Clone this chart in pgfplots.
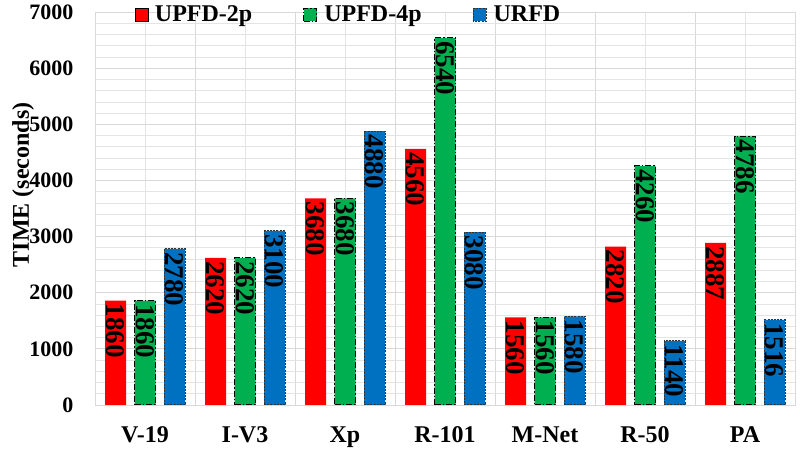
\documentclass[border=0pt]{standalone}
\usepackage{fontspec}
\setmainfont{Liberation Serif}
\usepackage{pgfplots}
\usetikzlibrary{calc}
\pgfplotsset{compat=1.18}
\definecolor{cred}{HTML}{FF0000}
\definecolor{cgreen}{HTML}{00B050}
\definecolor{cblue}{HTML}{0070C0}
\definecolor{gridc}{HTML}{D9D9D9}
\begin{document}
\begin{tikzpicture}
\begin{axis}[name=ax, scale only axis, width=700bp, height=393bp,
 ybar, bar width=0.21, ymin=0, ymax=7000, xmin=-0.5, xmax=6.5,
 xtick={0,...,6}, xticklabels={V-19,I-V3,Xp,R-101,M-Net,R-50,PA},
 ytick={0,1000,...,7000}, minor y tick num=4,
 minor xtick={-0.5,0.5,...,6.5},
 major tick length=0pt, minor tick length=0pt,
 ymajorgrids, yminorgrids, xmajorgrids, xminorgrids,
 major y grid style={gridc, line width=0.8bp},
 minor y grid style={gridc!70, line width=0.6bp},
 major x grid style={gridc!70, line width=0.6bp},
 minor x grid style={gridc, line width=0.8bp},
 axis line style={gridc, line width=0.8bp},
 /pgf/number format/assume math mode=true,
 /pgf/number format/1000 sep={},
 yticklabel style={font=\fontsize{22bp}{24bp}\selectfont\bfseries, xshift=-18bp},
 xticklabel style={font=\fontsize{24bp}{26bp}\selectfont\bfseries, yshift=-18bp},
 ylabel={TIME (seconds)},
 ylabel style={font=\fontsize{24bp}{26bp}\selectfont\bfseries, inner sep=0pt, at={(ticklabel cs:0.56,-8bp)}},
 legend columns=3,
 legend style={at={(0.052,1.026)}, anchor=north west, draw=none, fill=none,
   font=\fontsize{24bp}{26bp}\selectfont\bfseries,
   /tikz/every odd column/.append style={column sep=5bp},
   /tikz/every even column/.append style={column sep=49bp}},
 legend image code/.code={\draw[#1] (0bp,-6.5bp) rectangle (13bp,6.5bp);},
 nodes near coords,
 nodes near coords style={rotate=-90, anchor=west, black,
   font=\fontsize{27bp}{28bp}\selectfont\bfseries, inner sep=3bp},
]
\addplot[fill=cred, draw=none, bar shift=-0.295] coordinates {(0,1860) (1,2620) (2,3680) (3,4560) (4,1560) (5,2820) (6,2887)};
\addplot[fill=cgreen, draw=black, line width=1bp, dash pattern=on 6bp off 2bp on 1.5bp off 2bp, bar shift=0] coordinates {(0,1860) (1,2620) (2,3680) (3,6540) (4,1560) (5,4260) (6,4786)};
\addplot[fill=cblue, draw=black!80, line width=1bp, dash pattern=on 2bp off 1.2bp, bar shift=0.295] coordinates {(0,2780) (1,3100) (2,4880) (3,3080) (4,1580) (5,1140) (6,1516)};
\legend{UPFD-2p,UPFD-4p,URFD}
\end{axis}
\pgfresetboundingbox
\path ($(ax.south west)+(-95bp,-44bp)$) rectangle ($(ax.north east)+(5bp,12bp)$);
\end{tikzpicture}
\end{document}
